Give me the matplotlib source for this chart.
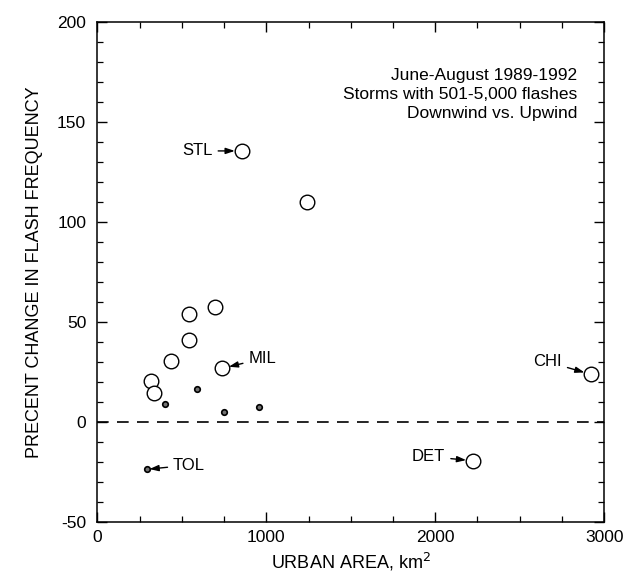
import numpy as np
import matplotlib
matplotlib.use("Agg")
import matplotlib.pyplot as plt
from matplotlib.ticker import MultipleLocator

plt.rcParams['font.family'] = ['Liberation Sans', 'DejaVu Sans']
plt.rcParams['axes.unicode_minus'] = False  # plain hyphen, like "-50" in the original

# --- data ---
# large open circles
big_area = [855, 1240, 696, 542, 542, 434, 738, 319, 337, 2224, 2923]
big_change = [135.5, 110, 57.5, 53.7, 40.9, 30.4, 26.7, 20.5, 14.2, -19.5, 23.7]
# small dots
small_area = [402, 592, 750, 959, 292]
small_change = [8.7, 16.2, 4.7, 7.3, -23.8]

# labelled cities: name, x, y, text offset (points), alignment
cities = ["STL", "MIL", "TOL", "DET", "CHI"]
city_area = [855, 738, 292, 2224, 2923]
city_change = [135.5, 26.7, -23.8, -19.5, 23.7]
city_offset = [(-21, 0), (19, 7), (19, 3), (-20, 3), (-21, 9)]
city_ha = ["right", "left", "left", "right", "right"]
city_shrink = [5, 5, 2, 5, 5]

fig = plt.figure(figsize=(6.32, 5.79), dpi=100)
ax = fig.add_axes([0.154, 0.099, 0.802, 0.863])

# zero line
ax.axhline(0, color='k', lw=1.2, ls=(0, (7, 5)), zorder=1)

ax.plot(big_area, big_change, 'o', ms=10.5, mfc='white', mec='k', mew=1.0, zorder=3)
ax.plot(small_area, small_change, 'o', ms=4, mfc='0.45', mec='k', mew=1.2, zorder=3)

for name, x, y, off, ha, sh in zip(cities, city_area, city_change, city_offset, city_ha, city_shrink):
    ax.annotate(name, (x, y), xytext=off, textcoords='offset points',
                ha=ha, va='center', fontsize=12,
                arrowprops=dict(arrowstyle='-|>,head_length=0.45,head_width=0.15',
                                color='k', lw=1.0, shrinkA=2, shrinkB=sh))

# --- axes formatting ---
ax.set_xlim(0, 3000)
ax.set_ylim(-50, 200)
ax.xaxis.set_major_locator(MultipleLocator(1000))
ax.xaxis.set_minor_locator(MultipleLocator(250))
ax.yaxis.set_major_locator(MultipleLocator(50))
ax.yaxis.set_minor_locator(MultipleLocator(10))
ax.tick_params(which='both', direction='in', top=True, right=True, labelsize=12.5)
ax.tick_params(which='major', length=7, width=1.0)
ax.tick_params(which='minor', length=4, width=0.9)
ax.tick_params(axis='x', pad=6)
ax.tick_params(axis='y', pad=8)
for s in ax.spines.values():
    s.set_linewidth(1.1)

ax.set_xlabel("URBAN AREA, km$^{2}$", fontsize=13, labelpad=4)
ax.set_ylabel("PRECENT CHANGE IN FLASH FREQUENCY", fontsize=13, labelpad=10)

ax.text(0.947, 0.855, "June-August 1989-1992\nStorms with 501-5,000 flashes\nDownwind vs. Upwind",
        transform=ax.transAxes, ha='right', va='center', multialignment='right',
        fontsize=12.5, linespacing=1.35)

fig.savefig("out.png", dpi=100)
